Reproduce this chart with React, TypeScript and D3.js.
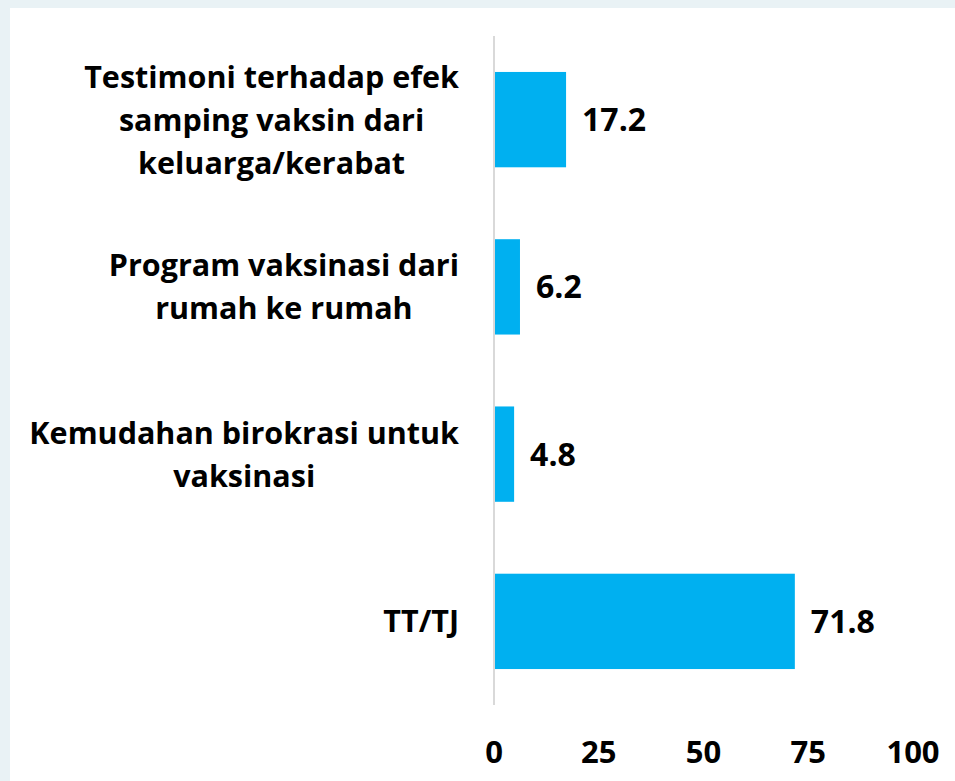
import React, { useEffect, useRef } from "react";
import * as d3 from "d3";

const categories: string[][] = [
  ["Testimoni terhadap efek", "samping vaksin dari", "keluarga/kerabat"],
  ["Program vaksinasi dari", "rumah ke rumah"],
  ["Kemudahan birokrasi untuk", "vaksinasi"],
  ["TT/TJ"],
];
const values: number[] = [17.2, 6.2, 4.8, 71.8];
const ticks: number[] = [0, 25, 50, 75, 100];

const W = 955;
const H = 781;
const FONT = "'Open Sans', Lato, sans-serif";

export default function App() {
  const ref = useRef<SVGSVGElement | null>(null);

  useEffect(() => {
    const svg = d3.select(ref.current);
    svg.selectAll("*").remove();

    // background frame
    svg.append("rect").attr("x", 0).attr("y", 0).attr("width", W).attr("height", H).attr("fill", "#e9f2f5");
    svg.append("rect").attr("x", 10).attr("y", 8).attr("width", W - 8).attr("height", H - 8).attr("fill", "#ffffff");

    const x = d3.scaleLinear().domain([0, 100]).range([494, 913]);
    const idx = categories.map((_, i) => String(i));
    const y = d3.scaleBand<string>().domain(idx).range([36, 705]).paddingInner(0.43).paddingOuter(0.215);

    // bars
    svg
      .selectAll("rect.bar")
      .data(values)
      .enter()
      .append("rect")
      .attr("class", "bar")
      .attr("x", x(0))
      .attr("y", (_, i) => y(String(i))!)
      .attr("width", (d) => x(d) - x(0))
      .attr("height", y.bandwidth())
      .attr("fill", "#00B0F0");

    // axis line
    svg
      .append("line")
      .attr("x1", x(0))
      .attr("x2", x(0))
      .attr("y1", 36)
      .attr("y2", 705)
      .attr("stroke", "#d9d9d9")
      .attr("stroke-width", 2);

    // value labels
    svg
      .selectAll("text.val")
      .data(values)
      .enter()
      .append("text")
      .attr("class", "val")
      .attr("x", (d) => x(d) + 16)
      .attr("y", (_, i) => y(String(i))! + y.bandwidth() / 2)
      .attr("dy", "0.36em")
      .attr("font-family", FONT)
      .attr("font-weight", 700)
      .attr("font-size", 32)
      .attr("fill", "#000")
      .text((d) => d.toFixed(1));

    // tick labels
    svg
      .selectAll("text.tick")
      .data(ticks)
      .enter()
      .append("text")
      .attr("class", "tick")
      .attr("x", (d) => x(d))
      .attr("y", 763)
      .attr("text-anchor", "middle")
      .attr("font-family", FONT)
      .attr("font-weight", 700)
      .attr("font-size", 31)
      .attr("fill", "#000")
      .text((d) => String(d));

    // category labels (centered block, right-aligned to edge)
    const rightEdge = 459;
    const lh = 43;
    categories.forEach((lines, i) => {
      const cy = y(String(i))! + y.bandwidth() / 2;
      const g = svg.append("g");
      const texts = lines.map((ln, j) =>
        g
          .append("text")
          .attr("y", cy + (j - (lines.length - 1) / 2) * lh)
          .attr("dy", "0.36em")
          .attr("text-anchor", "middle")
          .attr("font-family", FONT)
          .attr("font-weight", 700)
          .attr("font-size", 30.5)
          .attr("fill", "#000")
          .text(ln)
      );
      const maxW = d3.max(texts, (t) => (t.node() as SVGTextElement).getComputedTextLength()) || 0;
      texts.forEach((t) => t.attr("x", rightEdge - maxW / 2));
    });
  }, []);

  return (
    <svg ref={ref} width={W} height={H} style={{ position: "absolute", left: 0, top: 0 }} />
  );
}
